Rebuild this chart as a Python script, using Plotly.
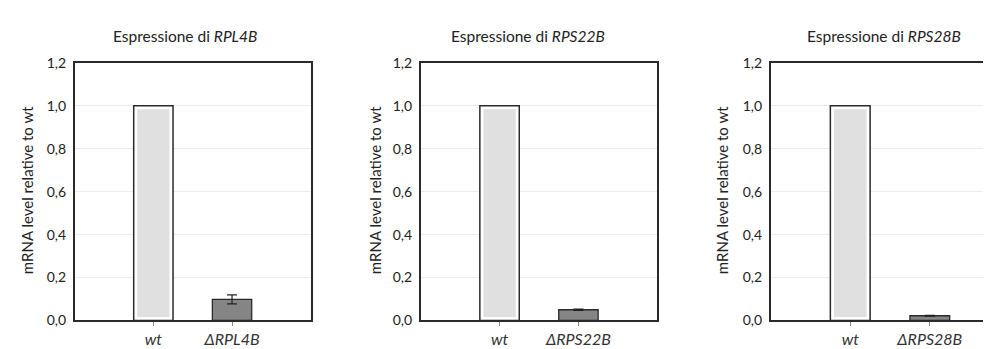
import plotly.graph_objects as go

# ---- data ----
categories_1 = ["wt", "ΔRPL4B"]
categories_2 = ["wt", "ΔRPS22B"]
categories_3 = ["wt", "ΔRPS28B"]
values_1 = [1.0, 0.098]
values_2 = [1.0, 0.05]
values_3 = [1.0, 0.022]
errors_1 = [0.0, 0.021]
errors_2 = [0.0, 0.003]
errors_3 = [0.0, 0.002]
genes = ["RPL4B", "RPS22B", "RPS28B"]
y_ticks = [0.0, 0.2, 0.4, 0.6, 0.8, 1.0, 1.2]

panels = [
    (categories_1, values_1, errors_1),
    (categories_2, values_2, errors_2),
    (categories_3, values_3, errors_3),
]

W, H = 991, 349
FONT = "Lato"
x_domains = [(66.7, 302.7), (412.7, 649.3), (762.7, 991)]
x_ranges = [(-1, 2), (-1, 2), (-1, 1.87)]
title_x = [177, 520, 876]
ytitle_x = [19, 367, 714]
y_dom = (1 - 319 / H, 1 - 48.3 / H)

fig = go.Figure()
INSET = 0.016
for i, (cats, vals, errs) in enumerate(panels):
    xa = "x" if i == 0 else f"x{i+1}"
    ya = "y" if i == 0 else f"y{i+1}"
    labels = [f"<i>{c}</i>" for c in cats]
    # wt bar: outlined white bar with light-gray inset
    fig.add_trace(go.Bar(x=[labels[0]], y=[vals[0]], width=0.5,
                         marker=dict(color="white", line=dict(color="#2a2a2a", width=1.5)),
                         xaxis=xa, yaxis=ya, showlegend=False))
    fig.add_trace(go.Bar(x=[labels[0]], y=[vals[0] - 2 * INSET], base=[INSET], width=0.41,
                         marker=dict(color="#e0e0e0", line=dict(width=0)),
                         xaxis=xa, yaxis=ya, showlegend=False))
    # mutant bar
    fig.add_trace(go.Bar(x=[labels[1]], y=[vals[1]], width=0.5,
                         marker=dict(color="#858585", line=dict(color="#2a2a2a", width=1.3)),
                         error_y=dict(type="data", array=[errs[1]], color="#222", thickness=1.2, width=5),
                         xaxis=xa, yaxis=ya, showlegend=False))

    dom = [x_domains[i][0] / W, x_domains[i][1] / W]
    xkey = "xaxis" if i == 0 else f"xaxis{i+1}"
    ykey = "yaxis" if i == 0 else f"yaxis{i+1}"
    fig.update_layout({
        xkey: dict(domain=dom, anchor=ya, range=list(x_ranges[i]), showline=True,
                   linecolor="#2a2a2a", linewidth=1.5, mirror=True, ticks="outside",
                   ticklen=4, tickcolor="#888", tickwidth=1, showgrid=False,
                   tickfont=dict(family=FONT, size=16, color="#333"),
                   ticklabelstandoff=0, fixedrange=True),
        ykey: dict(domain=list(y_dom), anchor=xa, range=[0, 1.2], tickvals=y_ticks,
                   tickformat=".1f", showline=True, linecolor="#2a2a2a", linewidth=1.5,
                   mirror=(i < 2), ticks="", showgrid=True, gridcolor="#ececec",
                   gridwidth=1, zeroline=False,
                   tickfont=dict(family=FONT, size=14, color="#222"),
                   ticklabelstandoff=4),
    })
    fig.add_annotation(x=title_x[i] / W, y=1 - 20 / H, xref="paper", yref="paper",
                       text=f"Espressione di <i>{genes[i]}</i>", showarrow=False,
                       font=dict(family=FONT, size=15.5, color="#222"),
                       xanchor="center", yanchor="middle")
    fig.add_annotation(x=ytitle_x[i] / W, y=1 - 182 / H, xref="paper", yref="paper",
                       text="mRNA level relative to wt", showarrow=False, textangle=-90,
                       font=dict(family=FONT, size=15, color="#222"),
                       xanchor="center", yanchor="middle")

fig.update_layout(width=W, height=H, margin=dict(l=0, r=0, t=0, b=0),
                  barmode="overlay", separators=",.",
                  paper_bgcolor="white", plot_bgcolor="white")
fig.write_html("out.html")
